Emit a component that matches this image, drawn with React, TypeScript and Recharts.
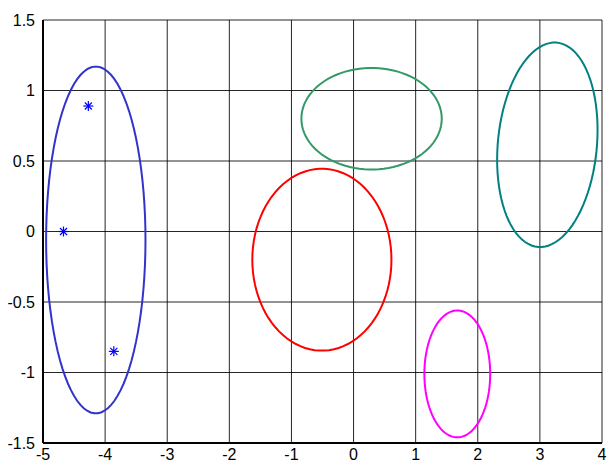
import { ScatterChart, Scatter, XAxis, YAxis, CartesianGrid } from "recharts";

// ellipse outlines: centre, half-axes and a horizontal skew (tilt) per curve
const ellipseColors = ["#3333cc", "#339966", "#008080", "#ff0000", "#ff00ff"];
const centerX = [-4.15, 0.29, 3.12, -0.51, 1.67];
const centerY = [-0.06, 0.8, 0.615, -0.2, -1.01];
const radiusX = [0.8, 1.13, 0.8, 1.12, 0.53];
const radiusY = [1.23, 0.36, 0.725, 0.645, 0.45];
const skewX = [0, 0, 0.117, 0, 0];

// star markers
const starX = [-4.27, -4.67, -3.86];
const starY = [0.89, 0.0, -0.85];

const xTicks = [-5, -4, -3, -2, -1, 0, 1, 2, 3, 4];
const yTicks = [-1.5, -1, -0.5, 0, 0.5, 1, 1.5];

const STEPS = 90;

function outline(i: number) {
  const pts = [];
  for (let k = 0; k <= STEPS; k++) {
    const t = (k / STEPS) * Math.PI * 2;
    pts.push({
      x: centerX[i] + radiusX[i] * Math.cos(t) + skewX[i] * Math.sin(t),
      y: centerY[i] + radiusY[i] * Math.sin(t),
    });
  }
  return pts;
}

const stars = starX.map((x, i) => ({ x, y: starY[i] }));

const Star = (props: any) => {
  const { cx, cy } = props;
  const r = 5;
  const d = 3.5;
  return (
    <g stroke="#0000ff" strokeWidth={1.2}>
      <line x1={cx - r} y1={cy} x2={cx + r} y2={cy} />
      <line x1={cx} y1={cy - r} x2={cx} y2={cy + r} />
      <line x1={cx - d} y1={cy - d} x2={cx + d} y2={cy + d} />
      <line x1={cx - d} y1={cy + d} x2={cx + d} y2={cy - d} />
    </g>
  );
};

const tickStyle = { fill: "#000", fontSize: 16, fontFamily: "Liberation Sans, Arial, sans-serif" };

export default function App() {
  return (
    <div style={{ position: "absolute", left: 0, top: 0, background: "#fff" }}>
      <ScatterChart width={608} height={463} margin={{ top: 20, right: 6, bottom: 0, left: 0 }}>
        <CartesianGrid stroke="#000" strokeWidth={1} strokeOpacity={0.85} />
        <XAxis
          type="number"
          dataKey="x"
          domain={[-5, 4]}
          ticks={xTicks}
          allowDataOverflow
          height={20}
          tickLine={false}
          tickMargin={0}
          axisLine={{ stroke: "#000", strokeWidth: 2 }}
          tick={tickStyle}
          interval={0}
        />
        <YAxis
          type="number"
          dataKey="y"
          domain={[-1.5, 1.5]}
          ticks={yTicks}
          allowDataOverflow
          width={43}
          tickLine={false}
          axisLine={{ stroke: "#000", strokeWidth: 2 }}
          tick={tickStyle}
          interval={0}
        />
        {ellipseColors.map((c, i) => (
          <Scatter
            key={c}
            data={outline(i)}
            line={{ stroke: c, strokeWidth: 2 }}
            shape={() => null}
            isAnimationActive={false}
          />
        ))}
        <Scatter data={stars} shape={Star} isAnimationActive={false} />
      </ScatterChart>
    </div>
  );
}
